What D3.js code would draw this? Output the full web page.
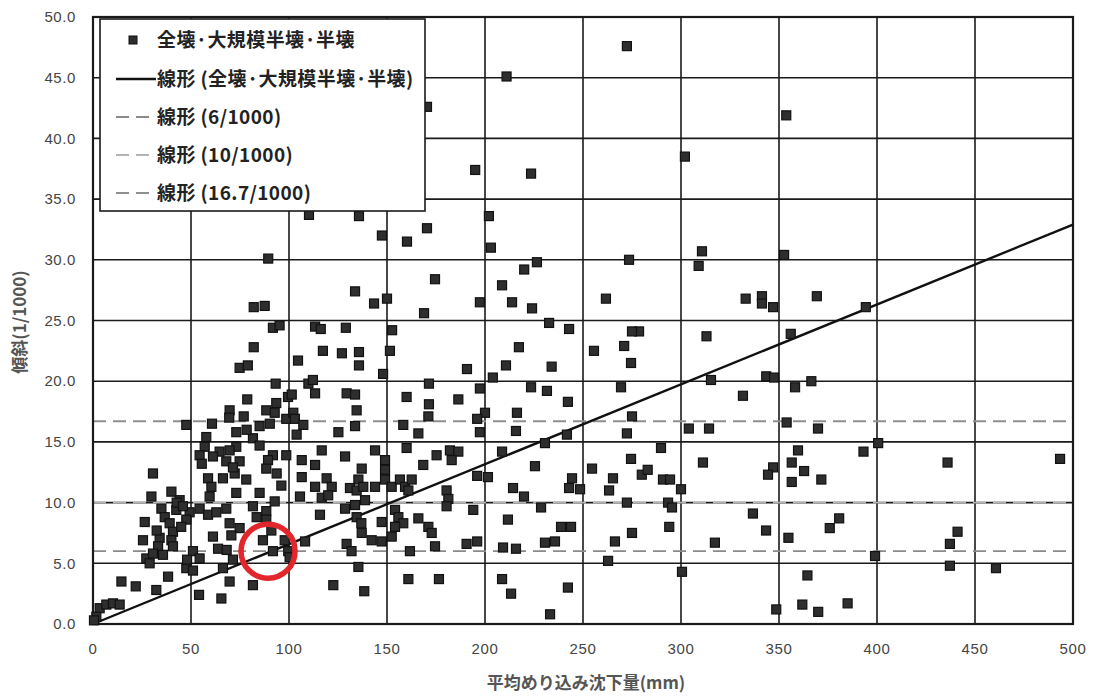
<!DOCTYPE html>
<html>
<head>
<meta charset="utf-8">
<script src="https://cdn.jsdelivr.net/npm/d3@7/dist/d3.min.js"></script>
<style>
  html, body { margin: 0; padding: 0; background: #ffffff; }
  svg { display: block; }
  .tick-label { font-family: "Liberation Sans", Arial, sans-serif; font-size: 15px; fill: #454545; letter-spacing: 0.6px; }
  .cjk { font-family: "Noto Sans CJK JP", "Noto Sans", sans-serif; }
</style>
</head>
<body>
<svg id="chart" width="1094" height="697"></svg>
<script>
// Average settlement (mm) vs. tilt (1/1000) — collapsed / large-scale half-collapsed / half-collapsed houses
const settlementMM = [
  272.4, 211, 170.4, 353.7, 302, 195, 223.5, 110.2, 135.7, 147.4, 160.2, 170.4, 202, 203, 226.5, 220,
  273.5, 310.7, 309, 352.6, 89.4, 174.5, 133.7, 143.4, 150, 168.9, 197.4, 208.7, 213.8, 224, 232.7, 242.9,
  261.7, 333, 341.3, 341.3, 347, 369.3, 394.3, 278.6, 275, 313, 356, 217.3, 255.6, 271, 274.5, 190.8,
  210.7, 234, 204, 315.3, 343.5, 347.5, 358.2, 366.5, 171.4, 197.4, 223.5, 231.6, 269.4, 331.6, 242.3, 216.3,
  200, 196, 275, 197.4, 215.8, 241.8, 272.4, 304, 314.3, 353.9, 369.9, 230.6, 208.7, 289.8, 400.6, 393.1,
  359.7, 225.5, 274.5, 311.2, 254.6, 196, 201.5, 244.4, 265.3, 280, 283, 290.8, 294.4, 300, 242.9, 248.5,
  263.3, 214.3, 219.9, 347, 344.4, 356.5, 362.8, 356.5, 371.6, 436, 493.4, 194, 228.6, 272.4, 293.4, 295.4,
  336.7, 211.7, 238.8, 243.9, 294, 343.4, 275, 266.3, 196, 230.6, 235.7, 209.2, 215.8, 317.3, 354.8, 380.7,
  375.9, 441.1, 437.2, 262.8, 399, 437.2, 460.7, 300.5, 364.5, 208.7, 242.3, 213.3, 233.2, 348.6, 361.9, 370,
  385,
  82, 87.6, 91.8, 95.2, 82, 74.8, 79, 93.2, 78.7, 69.7, 69.5, 76.9, 88.4, 93.5, 92.7, 99.5,
  47.6, 60.7, 98.6, 85, 90.2, 73.1, 57.8, 57, 81.6, 85, 73.1, 64.6, 69.7, 91.8, 98.6, 54.4,
  55.5, 61.2, 68, 74.8, 89.3, 88.4, 30.6, 72.3, 78.2, 66.3, 58.7, 96.1, 40, 60.4, 59.5, 73.1,
  85, 29.8, 44.2, 34.9, 36.6, 39.1, 40.8, 42.5, 49.3, 54.4, 58.7, 62.9, 47.6, 45, 68, 81.6,
  88.4, 92.7, 26.4, 69.7, 74.8, 70.6, 88.4, 91, 86.7, 25.5, 34, 33.2, 40, 40.8, 61.2, 63.8,
  27.2, 30.6, 35.7, 28.9, 51, 54.4, 47.6, 51, 71.4, 66.3, 91.8, 97.8, 38.3, 69.7, 14.5, 21.8,
  32.3, 54.1, 65.5, 81.6, 3.4, 6.8, 10.2, 13.6, 1.7, 0.5,
  109.9, 113.3, 101.4, 129.4, 133.7, 134.5, 102.2, 103, 107.3, 103.9, 125.2, 133.7, 160, 171.4, 171.1, 186.4,
  158.3, 166, 116.7, 128.6, 143.9, 106.5, 113.3, 106.5, 137.1, 135.4, 149, 149, 160, 168.5, 175.3, 182.1,
  186.4, 183, 119.2, 121.8, 113.3, 131.1, 134.5, 137.9, 143.9, 149, 152.4, 156.6, 159.2, 162.6, 160.9, 105.6,
  116.7, 120, 128.6, 133.7, 138.8, 180.4, 181.3, 180.4, 115.8, 134.5, 136.9, 147.3, 154.1, 155.8, 158.3, 154.1,
  166, 171.1, 172.8, 137.1, 142.2, 147.3, 152.4, 108.2, 129.4, 131.9, 161.7, 174.5, 190.6, 99.6, 135.4, 122.6,
  138.4, 160.9, 176.5,
  113.3, 116.2, 129, 152.6, 117.3, 127, 135.7, 135.7, 151.5, 104.6, 148, 112.2, 100.3,
  71.4, 78.4, 93.7, 42.7, 45.9, 32.5, 48, 68.2, 83.5
];
const tiltPerMille = [
  47.6, 45.1, 42.6, 41.9, 38.5, 37.4, 37.1, 33.7, 33.6, 32.0, 31.5, 32.6, 33.6, 31.0, 29.8, 29.2,
  30.0, 30.7, 29.5, 30.4, 30.1, 28.4, 27.4, 26.4, 26.8, 25.6, 26.5, 27.9, 26.5, 26.0, 24.8, 24.3,
  26.8, 26.8, 27.0, 26.4, 26.1, 27.0, 26.1, 24.1, 24.1, 23.7, 23.9, 22.8, 22.5, 22.9, 21.5, 21.0,
  21.3, 21.2, 20.3, 20.1, 20.4, 20.3, 19.5, 20.0, 19.8, 19.4, 19.5, 19.2, 19.5, 18.8, 18.3, 17.4,
  17.4, 16.9, 17.1, 15.8, 15.9, 15.6, 15.7, 16.1, 16.1, 16.6, 16.1, 14.9, 14.2, 14.5, 14.9, 14.2,
  14.3, 13.0, 13.6, 13.3, 12.8, 12.2, 12.1, 12.0, 12.0, 12.3, 12.7, 11.9, 11.9, 11.1, 11.2, 11.1,
  11.0, 11.2, 10.5, 12.9, 12.3, 13.3, 12.6, 11.7, 11.9, 13.3, 13.6, 9.4, 9.6, 10.0, 10.0, 9.6,
  9.1, 8.6, 8.0, 8.0, 8.0, 7.7, 7.5, 6.8, 6.8, 6.7, 6.8, 6.3, 6.2, 6.7, 7.1, 8.7,
  7.9, 7.6, 6.6, 5.2, 5.6, 4.8, 4.6, 4.3, 4.0, 3.7, 3.0, 2.5, 0.8, 1.2, 1.6, 1.0,
  1.7,
  26.1, 26.2, 24.4, 24.6, 22.8, 21.1, 21.3, 19.8, 18.5, 17.6, 17.0, 17.1, 17.6, 18.2, 17.4, 18.7,
  16.4, 16.5, 16.9, 16.3, 16.5, 15.8, 15.4, 14.6, 15.3, 14.7, 14.6, 14.2, 14.3, 13.9, 13.9, 13.9,
  13.2, 13.8, 13.4, 13.4, 13.5, 12.8, 12.4, 12.4, 11.9, 12.0, 12.0, 11.4, 10.9, 11.3, 10.5, 10.8,
  10.8, 10.5, 10.2, 9.5, 8.8, 8.3, 7.6, 9.4, 9.2, 9.5, 9.0, 9.2, 8.6, 8.0, 9.5, 9.7,
  9.3, 10.1, 8.4, 8.3, 7.9, 7.3, 8.6, 7.7, 6.9, 6.9, 7.1, 6.4, 6.9, 6.4, 7.2, 6.2,
  5.4, 5.8, 5.7, 5.0, 6.0, 5.4, 4.6, 4.4, 5.3, 4.6, 6.0, 6.9, 3.9, 3.5, 3.5, 3.1,
  2.8, 2.4, 2.1, 3.2, 1.3, 1.6, 1.7, 1.6, 0.6, 0.3,
  19.8, 19.0, 18.9, 19.0, 18.9, 17.6, 17.4, 16.9, 16.4, 15.6, 15.8, 16.3, 18.7, 18.1, 17.1, 18.5,
  16.4, 15.7, 14.3, 13.8, 14.3, 13.5, 13.1, 12.1, 12.8, 11.9, 13.5, 12.7, 14.5, 13.1, 13.9, 14.3,
  14.2, 13.5, 12.0, 11.3, 11.3, 11.2, 11.0, 11.3, 11.3, 11.9, 11.3, 11.9, 11.3, 11.9, 11.0, 10.5,
  10.4, 10.6, 9.5, 9.8, 10.2, 11.0, 10.3, 9.7, 9.0, 8.8, 8.3, 8.4, 9.4, 8.8, 8.3, 8.0,
  8.7, 8.0, 7.5, 7.5, 6.9, 6.8, 7.2, 6.8, 6.6, 6.0, 6.0, 6.4, 6.6, 6.0, 4.7, 3.2,
  2.7, 3.7, 3.7,
  24.5, 24.3, 24.4, 24.2, 22.5, 22.3, 22.4, 21.3, 22.5, 21.7, 20.6, 20.1, 5.5,
  12.9, 16.0, 12.4, 10.0, 9.7, 7.7, 5.3, 6.1, 8.8
];

// Linear trend of all points (start and end)
const trendX = [0, 500];
const trendY = [0, 32.9];

// Reference tilt levels (1/1000)
const refLevels = [6, 10, 16.7];
const refColors = ["#8a8a8a", "#b4b4b4", "#8f8f8f"];

// Axis ticks
const xTicks = [0, 50, 100, 150, 200, 250, 300, 350, 400, 450, 500];
const yTicks = [0, 5, 10, 15, 20, 25, 30, 35, 40, 45, 50];

// Legend labels
const legendLabels = [
  "全壊·大規模半壊·半壊",
  "線形 (全壊·大規模半壊·半壊)",
  "線形 (6/1000)",
  "線形 (10/1000)",
  "線形 (16.7/1000)"
];
const xTitle = "平均めり込み沈下量(mm)";
const yTitle = "傾斜(1/1000)";

// Highlighted point region (mm, 1/1000)
const highlight = [89.3, 6.0];

const points = settlementMM.map((d, i) => ({ x: d, y: tiltPerMille[i] }));

const svg = d3.select("#chart");
const plotL = 93, plotR = 1073, plotT = 17, plotB = 624;
const x = d3.scaleLinear().domain([0, 500]).range([plotL, plotR]);
const y = d3.scaleLinear().domain([0, 50]).range([plotB, plotT]);

// Grid
const grid = svg.append("g");
grid.selectAll("line.v").data(xTicks).join("line")
  .attr("x1", d => x(d)).attr("x2", d => x(d))
  .attr("y1", plotT).attr("y2", plotB)
  .attr("stroke", "#1a1a1a").attr("stroke-width", 1.6);
grid.selectAll("line.h").data(yTicks).join("line")
  .attr("x1", plotL).attr("x2", plotR)
  .attr("y1", d => y(d)).attr("y2", d => y(d))
  .attr("stroke", "#1a1a1a").attr("stroke-width", 1.6);

// Reference levels
svg.append("g").selectAll("line").data(refLevels).join("line")
  .attr("x1", x(0)).attr("x2", x(500))
  .attr("y1", d => y(d)).attr("y2", d => y(d))
  .attr("stroke", (d, i) => refColors[i])
  .attr("stroke-width", 1.8)
  .attr("stroke-dasharray", "13,7");

// Frame
svg.append("rect")
  .attr("x", plotL).attr("y", plotT)
  .attr("width", plotR - plotL).attr("height", plotB - plotT)
  .attr("fill", "none").attr("stroke", "#1a1a1a").attr("stroke-width", 2.2);

// Trend line
svg.append("line")
  .attr("x1", x(trendX[0])).attr("y1", y(trendY[0]))
  .attr("x2", x(trendX[1])).attr("y2", y(trendY[1]))
  .attr("stroke", "#111").attr("stroke-width", 2.4);

// Points
const sz = 9;
svg.append("g").selectAll("rect").data(points).join("rect")
  .attr("x", d => x(d.x) - sz / 2)
  .attr("y", d => y(d.y) - sz / 2)
  .attr("width", sz).attr("height", sz)
  .attr("fill", "#2e2e2e").attr("stroke", "#111").attr("stroke-width", 1.2);

// Highlight ring
svg.append("circle")
  .attr("cx", x(highlight[0])).attr("cy", y(highlight[1]))
  .attr("r", 27)
  .attr("fill", "none").attr("stroke", "#e3262b").attr("stroke-width", 5.5);

// Y tick labels
svg.append("g").selectAll("text").data(yTicks).join("text")
  .attr("class", "tick-label")
  .attr("x", 76).attr("y", d => y(d))
  .attr("dy", "0.35em")
  .attr("text-anchor", "end")
  .text(d => d3.format(".1f")(d));

// X tick labels
svg.append("g").selectAll("text").data(xTicks).join("text")
  .attr("class", "tick-label")
  .attr("x", d => x(d)).attr("y", 649)
  .attr("dy", "0.35em")
  .attr("text-anchor", "middle")
  .text(d => d);

// Axis titles
svg.append("text").attr("class", "cjk")
  .attr("x", 586).attr("y", 683).attr("dy", "0.35em")
  .attr("text-anchor", "middle")
  .attr("font-size", 17).attr("font-weight", "bold").attr("fill", "#555")
  .text(xTitle);
svg.append("text").attr("class", "cjk")
  .attr("transform", "translate(20,322) rotate(-90)")
  .attr("dy", "0.35em")
  .attr("text-anchor", "middle")
  .attr("font-size", 17).attr("font-weight", "bold").attr("fill", "#555")
  .text(yTitle);

// Legend
const lg = svg.append("g");
lg.append("rect")
  .attr("x", 100).attr("y", 19).attr("width", 325).attr("height", 192)
  .attr("fill", "#ffffff").attr("stroke", "#1a1a1a").attr("stroke-width", 1.6);
const rowY = [40, 79, 117, 155, 193];
lg.append("rect")
  .attr("x", 129).attr("y", rowY[0] - 4).attr("width", 8).attr("height", 8)
  .attr("fill", "#2e2e2e").attr("stroke", "#111").attr("stroke-width", 1);
lg.append("line")
  .attr("x1", 116).attr("x2", 156).attr("y1", rowY[1]).attr("y2", rowY[1])
  .attr("stroke", "#111").attr("stroke-width", 2.6);
refLevels.forEach((d, i) => {
  lg.append("line")
    .attr("x1", 116).attr("x2", 156).attr("y1", rowY[i + 2]).attr("y2", rowY[i + 2])
    .attr("stroke", refColors[i]).attr("stroke-width", 1.8)
    .attr("stroke-dasharray", "13,7");
});
lg.selectAll("text.lab").data(legendLabels).join("text")
  .attr("class", "cjk")
  .attr("x", 157).attr("y", (d, i) => rowY[i])
  .attr("dy", "0.35em")
  .attr("font-size", 19).attr("font-weight", "bold").attr("fill", "#222")
  .attr("letter-spacing", 0.4)
  .text(d => d);
</script>
</body>
</html>
